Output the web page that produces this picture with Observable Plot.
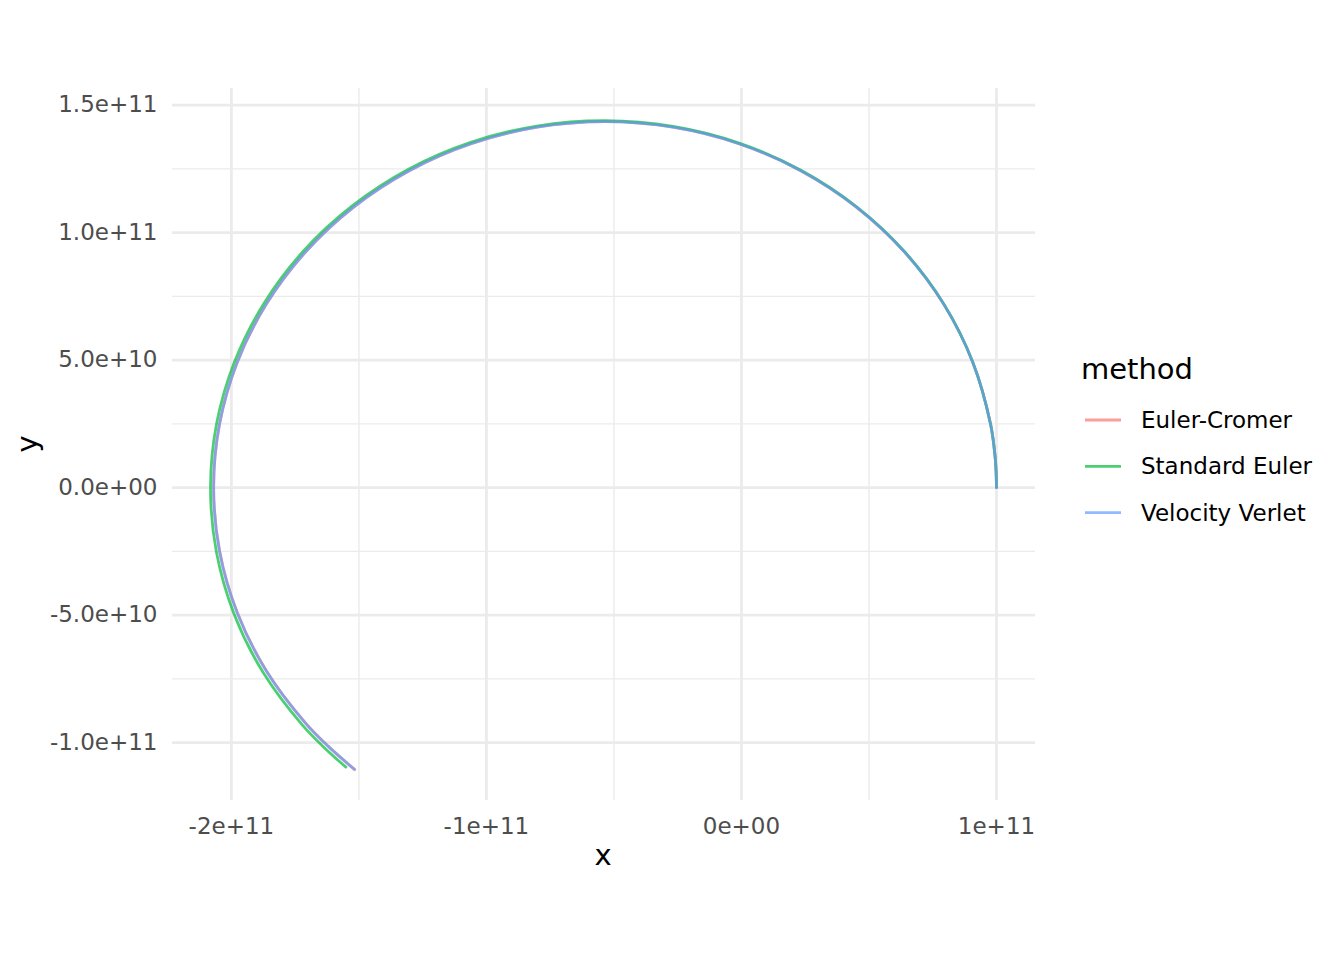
<!DOCTYPE html>
<html>
<head>
<meta charset="utf-8">
<script src="https://cdn.jsdelivr.net/npm/d3@7"></script>
<script src="https://cdn.jsdelivr.net/npm/@observablehq/plot@0.6"></script>
<style>
  body { margin: 0; background: #ffffff; }
  #chart { width: 1344px; height: 960px; }
</style>
</head>
<body>
<div id="chart"></div>
<script>
const methods = ["Euler-Cromer", "Standard Euler", "Velocity Verlet"];
const methodColors = ["#F8766D", "#00BA38", "#619CFF"];

const ecX = [100e9, 99.85e9, 99.42e9, 97.67e9, 90.74e9, 79.43e9, 64.08e9, 45.17e9, 23.25e9, -1.0e9, -26.85e9, -53.5e9, -80.15e9, -106.0e9, -130.25e9, -152.2e9, -171.1e9, -186.45e9, -197.75e9, -204.65e9, -206.95e9, -204.6e9, -197.65e9, -186.3e9, -170.95e9, -161.9e9, -151.6e9];
const ecY = [0, 6.26e9, 12.51e9, 24.92e9, 49.08e9, 71.75e9, 92.24e9, 109.92e9, 124.27e9, 134.85e9, 141.32e9, 143.5e9, 141.32e9, 134.85e9, 124.27e9, 109.9e9, 92.2e9, 71.7e9, 49.05e9, 24.9e9, 0, -24.95e9, -49.1e9, -71.8e9, -92.3e9, -101.55e9, -110.6e9];

const seX = [100e9, 99.85e9, 99.42e9, 97.67e9, 90.74e9, 79.47e9, 64.16e9, 45.27e9, 23.35e9, -0.91e9, -26.8e9, -53.5e9, -80.23e9, -106.19e9, -130.58e9, -152.65e9, -171.73e9, -187.25e9, -198.73e9, -205.8e9, -208.2e9, -205.9e9, -198.96e9, -187.6e9, -172.15e9, -163.04e9, -155.1e9];
const seY = [0, 6.26e9, 12.51e9, 24.92e9, 49.08e9, 71.78e9, 92.3e9, 110.03e9, 124.44e9, 135.09e9, 141.62e9, 143.85e9, 141.76e9, 135.37e9, 124.83e9, 110.45e9, 92.79e9, 72.23e9, 49.44e9, 25.12e9, 0, -25.14e9, -49.53e9, -72.43e9, -93.14e9, -102.47e9, -109.6e9];

const vvX = [100e9, 99.85e9, 99.42e9, 97.67e9, 90.74e9, 79.43e9, 64.08e9, 45.17e9, 23.25e9, -1.0e9, -26.85e9, -53.5e9, -80.15e9, -106.0e9, -130.25e9, -152.17e9, -171.08e9, -186.43e9, -197.74e9, -204.67e9, -207.0e9, -204.67e9, -197.74e9, -186.43e9, -171.08e9, -162.04e9, -151.9e9];
const vvY = [0, 6.26e9, 12.51e9, 24.92e9, 49.08e9, 71.75e9, 92.24e9, 109.92e9, 124.27e9, 134.85e9, 141.32e9, 143.5e9, 141.32e9, 134.85e9, 124.27e9, 109.92e9, 92.24e9, 71.75e9, 49.08e9, 24.92e9, 0, -24.92e9, -49.08e9, -71.75e9, -92.24e9, -101.47e9, -110.4e9];

const xTicks = [-2e11, -1e11, 0, 1e11];
const xTickLabels = ["-2e+11", "-1e+11", "0e+00", "1e+11"];
const xMinor = [-1.5e11, -5e10, 5e10];
const yTicks = [-1e11, -5e10, 0, 5e10, 1e11, 1.5e11];
const yTickLabels = ["-1.0e+11", "-5.0e+10", "0.0e+00", "5.0e+10", "1.0e+11", "1.5e+11"];
const yMinor = [-7.5e10, -2.5e10, 2.5e10, 7.5e10, 1.25e11];

const series = [[ecX, ecY], [seX, seY], [vvX, vvY]];
const data = [];
series.forEach(([xs, ys], k) => {
  xs.forEach((x, i) => data.push({method: methods[k], x, y: ys[i]}));
});

const grid = "#EBEBEB";
const svg = Plot.plot({
  width: 1344,
  height: 960,
  marginLeft: 172,
  marginRight: 309,
  marginTop: 88,
  marginBottom: 160,
  style: {fontFamily: "DejaVu Sans", background: "#ffffff"},
  x: {domain: [-2.231e11, 1.153e11]},
  y: {domain: [-1.227e11, 1.565e11]},
  color: {domain: methods, range: methodColors},
  marks: [
    Plot.ruleX(xMinor, {stroke: grid, strokeWidth: 1.4}),
    Plot.ruleY(yMinor, {stroke: grid, strokeWidth: 1.4}),
    Plot.ruleX(xTicks, {stroke: grid, strokeWidth: 2.8}),
    Plot.ruleY(yTicks, {stroke: grid, strokeWidth: 2.8}),
    Plot.axisX(xTicks, {tickSize: 0, tickPadding: 17, fontSize: 23, color: "#4D4D4D", label: null,
      tickFormat: d => xTickLabels[xTicks.indexOf(d)]}),
    Plot.axisY(yTicks, {tickSize: 0, tickPadding: 15, fontSize: 23, color: "#4D4D4D", label: null,
      tickFormat: d => yTickLabels[yTicks.indexOf(d)]}),
    Plot.line(data, {x: "x", y: "y", z: "method", stroke: "method", strokeWidth: 2.8, strokeOpacity: 0.7, curve: "catmull-rom"})
  ]
});

const s = d3.select(svg);
s.append("text").attr("x", 603).attr("y", 865).attr("text-anchor", "middle")
  .attr("font-size", 29).attr("fill", "#000").text("x");
s.append("text").attr("transform", "translate(37,444) rotate(-90)").attr("text-anchor", "middle")
  .attr("font-size", 29).attr("fill", "#000").text("y");

const lg = s.append("g").attr("text-anchor", "start");
lg.append("text").attr("x", 1081).attr("y", 379).attr("text-anchor", "start")
  .attr("font-size", 29).attr("fill", "#000").text("method");
methods.forEach((m, i) => {
  const cy = 420 + i * 46.3;
  lg.append("line").attr("x1", 1085).attr("x2", 1121).attr("y1", cy).attr("y2", cy)
    .attr("stroke", methodColors[i]).attr("stroke-opacity", 0.7).attr("stroke-width", 2.8);
  lg.append("text").attr("x", 1141).attr("y", cy).attr("dy", "0.35em").attr("text-anchor", "start")
    .attr("font-size", 23).attr("fill", "#000").text(m);
});

document.getElementById("chart").appendChild(svg);
</script>
</body>
</html>
